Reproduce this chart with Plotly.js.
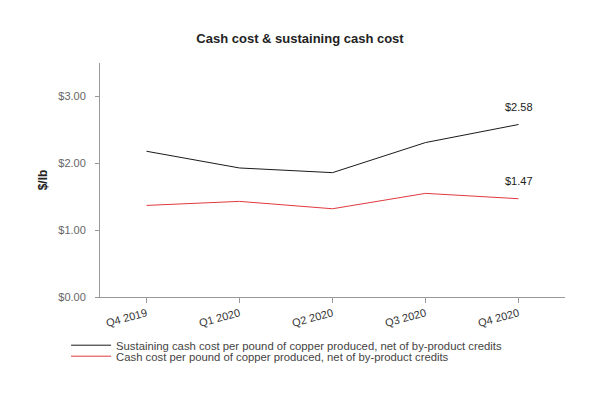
<!DOCTYPE html>
<html><head><meta charset="utf-8">
<script src="https://cdn.plot.ly/plotly-3.0.1.min.js"></script>
<style>body{margin:0;background:#fff}#c{width:600px;height:400px}</style>
</head><body><div id="c"></div>
<script>
const quarters = ["Q4 2019","Q1 2020","Q2 2020","Q3 2020","Q4 2020"];
const sustainingCost = [2.18, 1.93, 1.86, 2.31, 2.58];
const cashCost = [1.37, 1.43, 1.32, 1.55, 1.47];
const seriesNames = ["Sustaining cash cost per pound of copper produced, net of by-product credits","Cash cost per pound of copper produced, net of by-product credits"];
const yTicks = [0,1,2,3];
const yTickLabels = ["$0.00","$1.00","$2.00","$3.00"];

const font = "Liberation Sans, Arial, sans-serif";
const traces = [
  {x: quarters, y: sustainingCost, name: seriesNames[0], type:"scatter", mode:"lines", line:{color:"#1a1a1a", width:1}, legend:"legend"},
  {x: quarters, y: cashCost, name: seriesNames[1], type:"scatter", mode:"lines", line:{color:"#e0393e", width:1}, legend:"legend2"}
];
const last = quarters.length-1;
const legendBase = {orientation:"v", x:-0.073, xanchor:"left", yanchor:"top", itemwidth:40, font:{family:font, size:11.3, color:"#444"}, bgcolor:"rgba(0,0,0,0)"};
const layout = {
  width:600, height:400,
  margin:{l:100, r:35, t:63, b:103},
  paper_bgcolor:"#fff", plot_bgcolor:"#fff",
  font:{family:font, size:11, color:"#555"},
  title:{text:"Cash cost & sustaining cash cost", x:0.5, xanchor:"center", y:0.905, yanchor:"middle", font:{family:font, size:13, color:"#222", weight:"bold"}},
  showlegend:true,
  legend:Object.assign({}, legendBase, {y:-0.144}),
  legend2:Object.assign({}, legendBase, {y:-0.191}),
  xaxis:{type:"category", range:[-0.5,4.5], showline:true, linecolor:"#999", linewidth:1, ticks:"outside", ticklen:5, tickcolor:"#999", tickangle:-15, showgrid:false, zeroline:false, tickfont:{family:font, size:11, color:"#333"}},
  yaxis:{range:[0,3.5], tickvals:yTicks, ticktext:yTickLabels, showline:true, linecolor:"#999", linewidth:1, ticks:"outside", ticklen:4, tickcolor:"#999", ticklabelstandoff:7, showgrid:false, zeroline:false, tickfont:{family:font, size:11, color:"#666"},
    title:{text:"$/lb", standoff:8, font:{family:font, size:12, color:"#222", weight:"bold"}}},
  annotations:[
    {x:quarters[last], y:sustainingCost[last], text:"$"+sustainingCost[last].toFixed(2), showarrow:false, yshift:18, font:{family:font, size:11, color:"#222"}},
    {x:quarters[last], y:cashCost[last], text:"$"+cashCost[last].toFixed(2), showarrow:false, yshift:18, font:{family:font, size:11, color:"#222"}}
  ]
};
Plotly.newPlot("c", traces, layout, {displayModeBar:false, staticPlot:true});
</script></body></html>
